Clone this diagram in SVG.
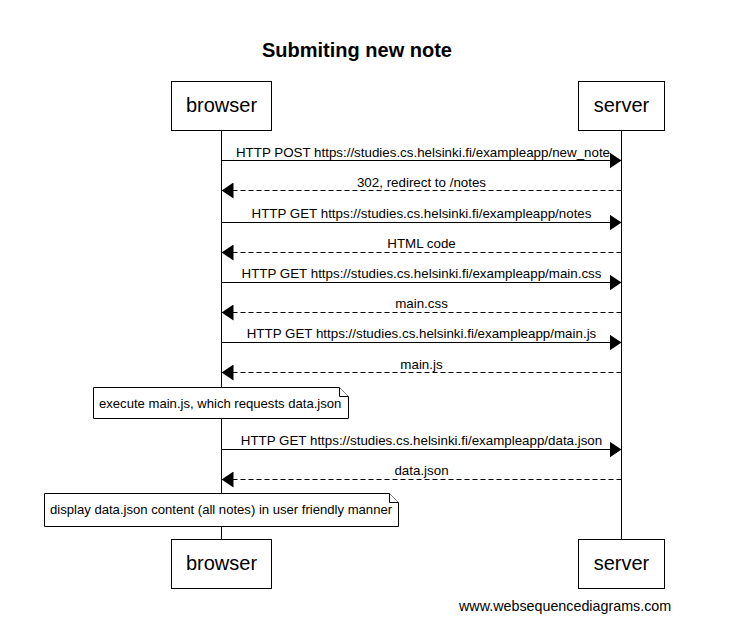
<svg xmlns="http://www.w3.org/2000/svg" width="730" height="640" viewBox="0 0 730 640">
<style>
text{font-family:"Liberation Sans",Arial,sans-serif;fill:#000}
.title{font-size:20px;font-weight:bold}
.pbox{fill:#fff;stroke:#000;stroke-width:1}
.pt{font-size:20px}
.life{stroke:#000;stroke-width:1}
.msg{stroke:#000;stroke-width:1;fill:none}
.ret{stroke-dasharray:5,3}
.ml{font-size:13.35px}
.nt{font-size:13.1px}
.note{fill:#fff;stroke:#000;stroke-width:1}
.foot{font-size:14.3px}
</style>
<defs>
<marker id="ah" markerWidth="12" markerHeight="16" refX="12" refY="8" orient="auto" markerUnits="userSpaceOnUse">
<path d="M0,0 L12,8 L0,16 Z" fill="#000"/>
</marker>
</defs>
<rect width="730" height="640" fill="#fff"/>
<text class="title" x="357" y="57" text-anchor="middle">Submiting new note</text>
<g id="lifelines">
<line class="life" x1="221.5" y1="130" x2="221.5" y2="539"/>
<line class="life" x1="621.5" y1="130" x2="621.5" y2="539"/>
</g>
<g id="browser">
<rect class="pbox" x="171.5" y="81.5" width="100" height="49"/>
<text class="pt" x="221.5" y="112" text-anchor="middle">browser</text>
</g>
<g id="server">
<rect class="pbox" x="578.5" y="81.5" width="86" height="49"/>
<text class="pt" x="621.5" y="112" text-anchor="middle">server</text>
</g>
<g id="browser-bottom">
<rect class="pbox" x="171.5" y="539.5" width="100" height="49"/>
<text class="pt" x="221.5" y="570" text-anchor="middle">browser</text>
</g>
<g id="server-bottom">
<rect class="pbox" x="578.5" y="539.5" width="86" height="49"/>
<text class="pt" x="621.5" y="570" text-anchor="middle">server</text>
</g>
<g id="connectors">
<line class="msg" x1="221.5" y1="160.5" x2="621.5" y2="160.5" marker-end="url(#ah)"/>
<text class="ml" x="423" y="157" text-anchor="middle">HTTP POST https://studies.cs.helsinki.fi/exampleapp/new_note</text>
<line class="msg ret" x1="621.5" y1="190.5" x2="221.5" y2="190.5" marker-end="url(#ah)"/>
<text class="ml" x="421.5" y="187" text-anchor="middle">302, redirect to /notes</text>
<line class="msg" x1="221.5" y1="222.5" x2="621.5" y2="222.5" marker-end="url(#ah)"/>
<text class="ml" x="421.5" y="218" text-anchor="middle">HTTP GET https://studies.cs.helsinki.fi/exampleapp/notes</text>
<line class="msg ret" x1="621.5" y1="252.5" x2="221.5" y2="252.5" marker-end="url(#ah)"/>
<text class="ml" x="421.5" y="248" text-anchor="middle">HTML code</text>
<line class="msg" x1="221.5" y1="282.5" x2="621.5" y2="282.5" marker-end="url(#ah)"/>
<text class="ml" x="421.5" y="278" text-anchor="middle">HTTP GET https://studies.cs.helsinki.fi/exampleapp/main.css</text>
<line class="msg ret" x1="621.5" y1="312.5" x2="221.5" y2="312.5" marker-end="url(#ah)"/>
<text class="ml" x="421.5" y="308" text-anchor="middle">main.css</text>
<line class="msg" x1="221.5" y1="342.5" x2="621.5" y2="342.5" marker-end="url(#ah)"/>
<text class="ml" x="421.5" y="338" text-anchor="middle">HTTP GET https://studies.cs.helsinki.fi/exampleapp/main.js</text>
<line class="msg ret" x1="621.5" y1="372.5" x2="221.5" y2="372.5" marker-end="url(#ah)"/>
<text class="ml" x="421.5" y="369" text-anchor="middle">main.js</text>
<line class="msg" x1="221.5" y1="449.5" x2="621.5" y2="449.5" marker-end="url(#ah)"/>
<text class="ml" x="421.5" y="445" text-anchor="middle">HTTP GET https://studies.cs.helsinki.fi/exampleapp/data.json</text>
<line class="msg ret" x1="621.5" y1="479.5" x2="221.5" y2="479.5" marker-end="url(#ah)"/>
<text class="ml" x="421.5" y="475" text-anchor="middle">data.json</text>
</g>
<g id="note1">
<path class="note" d="M93.5,387.5 H339.5 L348.5,396.5 V418.5 H93.5 Z"/>
<path class="note" d="M339.5,387.5 V396.5 H348.5" fill="none"/>
<text class="nt" x="99" y="408">execute main.js, which requests data.json</text>
</g>
<g id="note2">
<path class="note" d="M44.5,493.5 H389.5 L398.5,502.5 V526.5 H44.5 Z"/>
<path class="note" d="M389.5,493.5 V502.5 H398.5" fill="none"/>
<text class="nt" x="50" y="514">display data.json content (all notes) in user friendly manner</text>
</g>
<text class="foot" x="459" y="611">www.websequencediagrams.com</text>
</svg>
